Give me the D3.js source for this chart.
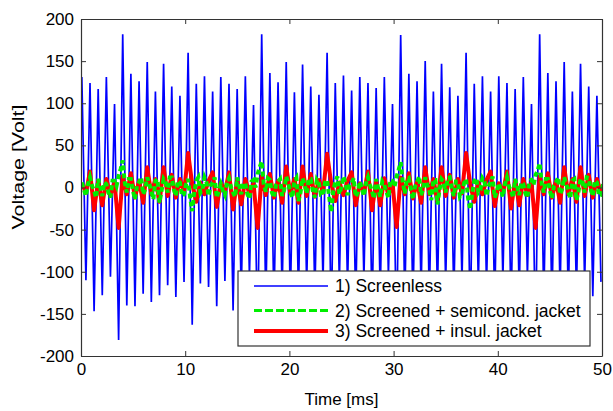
<!DOCTYPE html>
<html>
<head>
<meta charset="utf-8">
<script src="https://cdn.jsdelivr.net/npm/d3@7"></script>
<style>
  body { margin: 0; background: #fff; }
  svg text { font-family: "Liberation Sans", Arial, sans-serif; fill: #000; }
</style>
</head>
<body>
<div id="div_chart"></div>
<script>
// sampling of the read-off extrema (ms)
const t0 = 0.08;
const dt = 0.3923;

// 1) Screenless - alternating peak / trough values [V], one every dt
const screenless = [
  131,-110,124,-147,117,-128,131,-106,99,-181,182,-140,135,-141,126,-126,149,-136,114,-128,147,-116,120,-130,109,-112,160,-163,123,-114,132,-118,114,-141,
  131,-111,123,-146,117,-127,132,-106,98,-180,182,-139,136,-141,125,-126,149,-135,113,-128,146,-117,120,-129,110,-113,160,-162,124,-114,133,-119,115,-140,
  131,-110,124,-147,118,-128,131,-105,99,-181,181,-140,135,-142,126,-125,150,-136,114,-127,147,-116,119,-130,109,-112,160,-163,123,-115,132,-118,114,-141,
  132,-110,124,-146,117,-128,131,-106,99,-180,182,-140,136,-141,126,-126,149,-136,114,-128,147,-116,120,-129,109,-112
];

// 2) Screened + semicond. jacket [V], one every dt/2
const semicond = [
  6,-2,-10,4,12,2,-4,-12,10,0,-10,6,4,-6,-12,8,8,2,14,22,32,6,-6,10,10,-4,-14,2,6,12,-8,-2,12,4,-4,-14,8,10,-18,-4,10,6,-6,12,12,-2,-10,8,6,-10,-8,4,10,-12,-28,-6,8,12,-6,-2,12,6,-10,2,6,12,-12,-4,
  4,-4,-9,6,11,0,-6,-11,12,2,-8,5,5,-8,-13,7,9,0,16,24,31,4,-5,11,9,-6,-12,3,7,10,-10,-3,13,5,-5,-12,7,11,-16,-6,11,4,-7,10,10,-4,-12,9,5,-9,-9,6,9,-11,-29,-5,7,13,-8,0,13,5,-9,3,5,11,-11,-6,
  7,-1,-10,5,12,3,-5,-13,10,-1,-11,7,3,-5,-12,9,8,1,13,21,30,7,-7,9,11,-3,-14,1,6,13,-9,-1,12,3,-3,-15,9,9,-20,-3,10,7,-6,11,12,-1,-10,7,7,-11,-8,5,10,-13,-26,-7,8,11,-6,-3,11,7,-10,1,6,13,-12,-5,
  5,-3,-11,4,12,1,-4,-12,10,1,-9,6,4,-7,-12,8,9,3,15,20,29,5,-6,10,10,-4,-13,2,6,12,-8,-2,12,4,-4,-13,8,10,-15,-5,10,6,-6,12,11,-2,-10,8,6,-10,-9,4
];

// 3) Screened + insul. jacket [V], one every dt
const insul = [
  5,-6,19,-27,8,-21,10,-9,6,-48,13,-8,17,-12,8,-18,24,-8,10,-17,24,-10,15,-12,10,-6,41,4,-17,6,-8,8,18,-23,
  6,-5,18,-26,9,-20,10,-8,5,-48,13,-9,16,-12,8,-18,25,-7,10,-18,25,-10,16,-11,9,-6,40,5,-16,6,-9,8,18,-21,
  5,-6,19,-27,8,-21,11,-9,6,-47,12,-8,17,-13,7,-18,24,-8,10,-17,24,-10,15,-12,10,-7,41,4,-17,6,-8,9,19,-22,
  5,-6,19,-25,8,-21,10,-9,6,-48,13,-8,17,-12,8,-18,24,-8,10,-17,24,-10,15,-12,10,-6
];

const xTicks = [0, 10, 20, 30, 40, 50];
const yTicks = [-200, -150, -100, -50, 0, 50, 100, 150, 200];
const legendLabels = ["1) Screenless", "2) Screened + semicond. jacket", "3) Screened + insul. jacket"];

const svg_width = 613;
const svg_height = 411;
const plotLeft = 81, plotTop = 19, plotRight = 602, plotBottom = 356;

const svg = d3.select("#div_chart")
  .append("svg")
    .attr("width", svg_width)
    .attr("height", svg_height)

const x = d3.scaleLinear().domain([0, 50]).range([plotLeft, plotRight]);
const y = d3.scaleLinear().domain([-200, 200]).range([plotBottom, plotTop]);

svg.append("defs").append("clipPath")
    .attr("id", "plotClip")
  .append("rect")
    .attr("x", plotLeft)
    .attr("y", plotTop)
    .attr("width", plotRight - plotLeft)
    .attr("height", plotBottom - plotTop)

const toPoints = (arr, step) => arr.map((v, i) => [t0 + i * step, v]);

const line = d3.line()
    .x(d => x(d[0]))
    .y(d => y(d[1]))

const plot = svg.append("g").attr("clip-path", "url(#plotClip)");

plot.append("path")
    .datum(toPoints(screenless, dt))
    .attr("d", line)
    .attr("fill", "none")
    .attr("stroke", "#0000ff")
    .attr("stroke-width", 1.7)

plot.append("path")
    .datum(toPoints(insul, dt))
    .attr("d", line)
    .attr("fill", "none")
    .attr("stroke", "#ff0000")
    .attr("stroke-width", 4)
    .attr("stroke-linejoin", "round")

plot.append("path")
    .datum(toPoints(semicond, dt / 2))
    .attr("d", line)
    .attr("fill", "none")
    .attr("stroke", "#00ee00")
    .attr("stroke-width", 4)
    .attr("stroke-dasharray", "5,3")

// axes, MATLAB style box with inward ticks
const axisColor = "#333";

function styleAxis(g) {
  g.selectAll("path, line").attr("stroke", axisColor);
  g.selectAll("text").attr("font-size", 17).attr("fill", "#000");
}

svg.append("g")
    .attr("transform", `translate(0,${plotBottom})`)
    .call(d3.axisBottom(x).tickValues(xTicks).tickFormat(d => String(d)).tickSize(-5).tickPadding(7).tickSizeOuter(0))
    .call(styleAxis)

svg.append("g")
    .attr("transform", `translate(${plotLeft},0)`)
    .call(d3.axisLeft(y).tickValues(yTicks).tickFormat(d => String(d)).tickSize(-5).tickPadding(7).tickSizeOuter(0))
    .call(styleAxis)

svg.append("g")
    .attr("transform", `translate(0,${plotTop})`)
    .call(d3.axisTop(x).tickValues(xTicks).tickSize(-5).tickFormat("").tickSizeOuter(0))
    .call(styleAxis)

svg.append("g")
    .attr("transform", `translate(${plotRight},0)`)
    .call(d3.axisRight(y).tickValues(yTicks).tickSize(-5).tickFormat("").tickSizeOuter(0))
    .call(styleAxis)

svg.selectAll(".domain").attr("stroke-width", 1.2);

// axis labels
svg.append("text")
    .attr("x", (plotLeft + plotRight) / 2)
    .attr("y", 405)
    .attr("text-anchor", "middle")
    .attr("font-size", 17)
    .text("Time [ms]")

svg.append("text")
    .attr("transform", "translate(24,167) rotate(-90)")
    .attr("text-anchor", "middle")
    .attr("font-size", 17)
    .attr("textLength", 125)
    .attr("lengthAdjust", "spacingAndGlyphs")
    .text("Voltage [Volt]")

// legend
const legend = svg.append("g");
legend.append("rect")
    .attr("x", 238)
    .attr("y", 271)
    .attr("width", 352)
    .attr("height", 75)
    .attr("fill", "#fff")
    .attr("stroke", axisColor)
    .attr("stroke-width", 1.2)

const legendStyles = [
  { color: "#0000ff", width: 1.5, dash: null },
  { color: "#00ee00", width: 3, dash: "8,3" },
  { color: "#ff0000", width: 4, dash: null }
];
const legendRows = [286, 310.5, 331];

for (let i = 0; i < legendLabels.length; i++) {
  legend.append("line")
      .attr("x1", 254)
      .attr("x2", 328)
      .attr("y1", legendRows[i])
      .attr("y2", legendRows[i])
      .attr("stroke", legendStyles[i].color)
      .attr("stroke-width", legendStyles[i].width)
      .attr("stroke-dasharray", legendStyles[i].dash)
  legend.append("text")
      .attr("x", 335)
      .attr("y", legendRows[i] + 6)
      .attr("font-size", 17.5)
      .text(legendLabels[i])
}
</script>
</body>
</html>
